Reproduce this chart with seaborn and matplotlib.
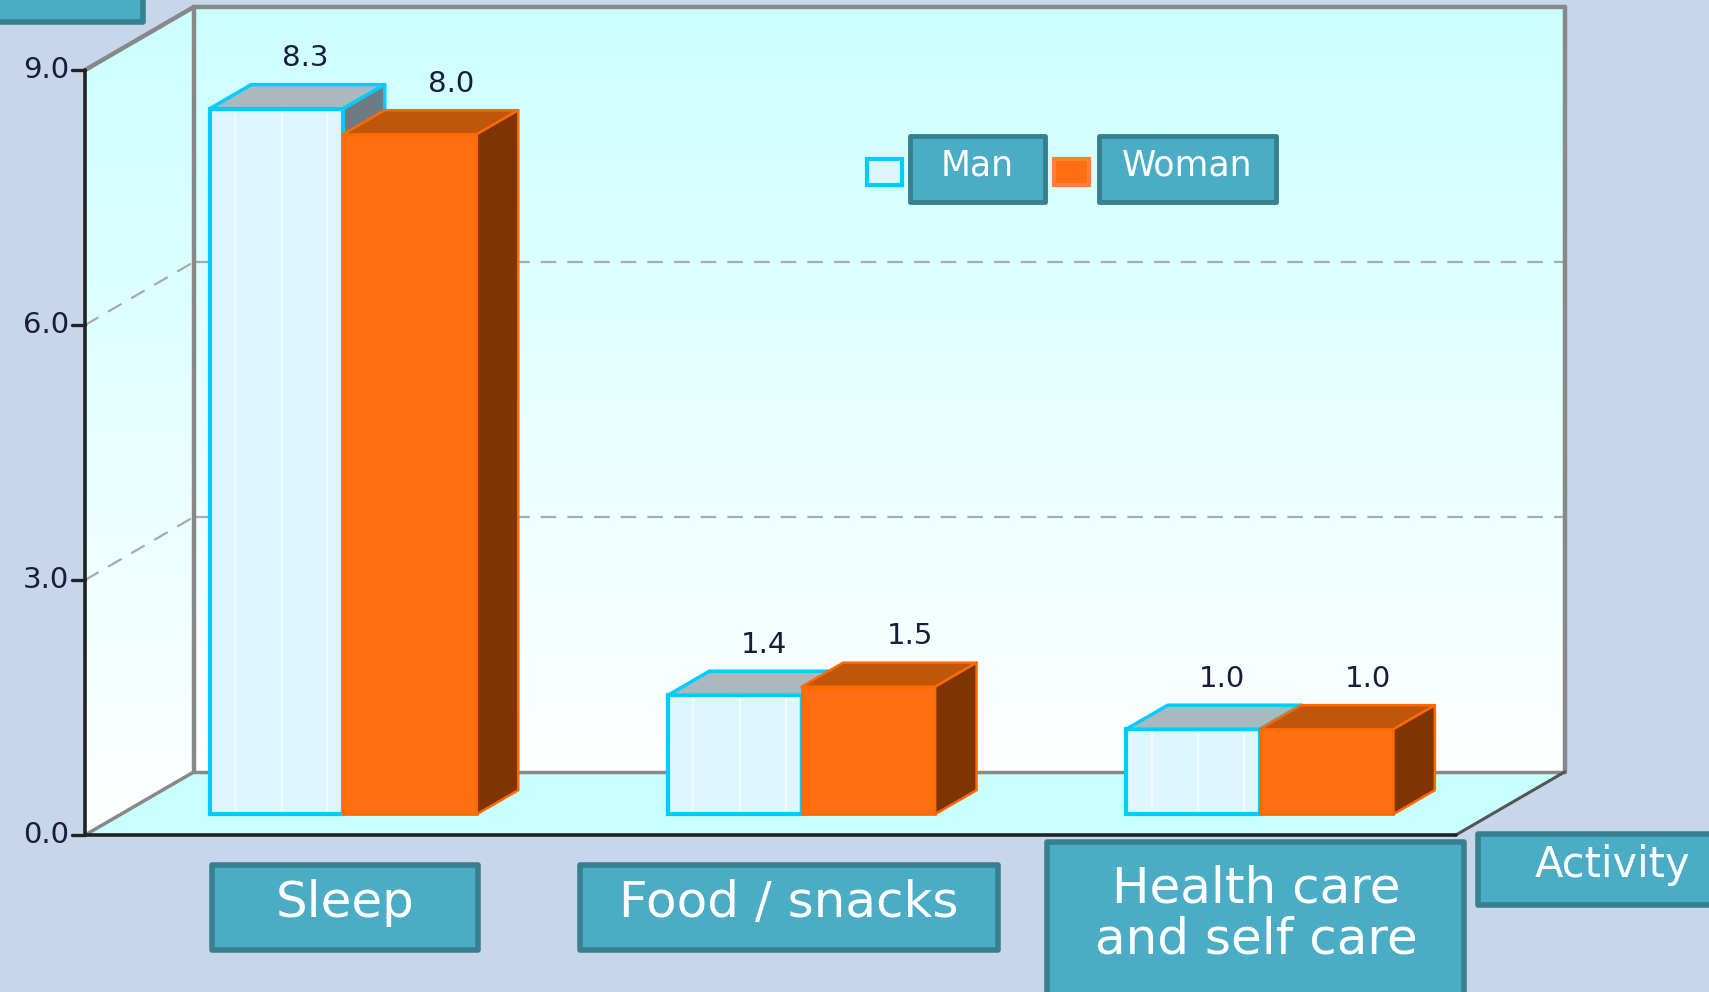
import numpy as np
import pandas as pd
import matplotlib
matplotlib.use("Agg")
import matplotlib.pyplot as plt
import seaborn as sns
from matplotlib.patches import Polygon, FancyBboxPatch, Rectangle
from matplotlib.colors import LinearSegmentedColormap

# ---------------- data ----------------
categories = ["Sleep", "Food / snacks", "Health care\nand self care"]
series = ["Man", "Woman"]
man_hours = [8.3, 1.4, 1.0]
woman_hours = [8.0, 1.5, 1.0]
y_ticks = [0.0, 3.0, 6.0, 9.0]
y_tick_labels = ["0.0", "3.0", "6.0", "9.0"]
grid_values = [3.0, 6.0]
x_axis_title = "Activity"

# ---------------- style ----------------
W, H, DPI = 1709, 992, 100
BG = "#C8D6EC"
MAN_FACE, MAN_EDGE, MAN_TOP, MAN_SIDE = "#DDF6FF", "#00CCFF", "#A9B9BE", "#6E7B80"
WOM_FACE, WOM_EDGE, WOM_TOP, WOM_SIDE = "#FF6E10", "#FF6A00", "#BF560A", "#7F3404"
BOX_FACE, BOX_EDGE = "#4BACC6", "#36808F"
WALL_GRAY = "#888888"
TXT_DARK = "#1B1B3B"

sns.set_theme(style="white")
plt.rcParams["font.family"] = ["DejaVu Sans"]

fig = plt.figure(figsize=(W / DPI, H / DPI), dpi=DPI)
fig.patch.set_facecolor(BG)
ax = fig.add_axes([0, 0, 1, 1])
ax.set_facecolor("none")

df = pd.DataFrame({
    "Activity": categories * 2,
    "Sex": ["Man"] * len(categories) + ["Woman"] * len(categories),
    "Hours": man_hours + woman_hours,
})
sns.barplot(data=df, x="Activity", y="Hours", hue="Sex", order=categories,
            hue_order=series, palette={"Man": MAN_FACE, "Woman": WOM_FACE},
            width=0.583, saturation=1, errorbar=None, legend=False, ax=ax)
bars = sorted([p for p in ax.patches if isinstance(p, Rectangle) and p.get_height() > 0],
              key=lambda p: p.get_x())

# ---------------- 3D projection helpers ----------------
ZB = 0.33      # depth of bar front plane
DEPTH = 0.38   # bar depth
DXd = 0.2378   # x shift per unit depth (data units)
DYd = 0.7435   # y shift per unit depth (data units)
XL, XR = -0.485, 2.506
VMAX = 9.0


def proj(x, v, z):
    return x + (z - ZB) * DXd, v + (z - ZB) * DYd


# walls with gradient
cmap = LinearSegmentedColormap.from_list("wall", ["#FFFFFF", "#CCFFFF"])
grad = np.linspace(0, 1, 256).reshape(-1, 1)

# back wall
bx0, by0 = proj(XL, 0, 1)
bx1, by1 = proj(XR, VMAX, 1)
ax.imshow(grad, extent=[bx0, bx1, by0, by1], origin="lower", cmap=cmap,
          aspect="auto", zorder=1, interpolation="bilinear")
# left wall
lw_pts = [proj(XL, 0, 0), proj(XL, 0, 1), proj(XL, VMAX, 1), proj(XL, VMAX, 0)]
lw_poly = Polygon(lw_pts, closed=True, facecolor="none", edgecolor="none")
ax.add_patch(lw_poly)
lx = [p[0] for p in lw_pts]
ly = [p[1] for p in lw_pts]
im = ax.imshow(grad, extent=[min(lx), max(lx), min(ly), max(ly)], origin="lower",
               cmap=cmap, aspect="auto", zorder=1, interpolation="bilinear")
im.set_clip_path(lw_poly)
# floor
floor = Polygon([proj(XL, 0, 0), proj(XR, 0, 0), proj(XR, 0, 1), proj(XL, 0, 1)],
                closed=True, facecolor="#C8FFFF", edgecolor="none", zorder=1.5)
ax.add_patch(floor)

# dashed gridlines on back and left walls
for g in grid_values:
    a, b = proj(XL, g, 1), proj(XR, g, 1)
    ax.plot([a[0], b[0]], [a[1], b[1]], color="#AAAAAA", lw=1.6,
            dashes=(7, 5), zorder=2)
    c = proj(XL, g, 0)
    ax.plot([c[0], a[0]], [c[1], a[1]], color="#AAAAAA", lw=1.6,
            dashes=(7, 5), zorder=2)


def seg(p, q, **kw):
    ax.plot([p[0], q[0]], [p[1], q[1]], solid_capstyle="round", **kw)


# back wall border
seg(proj(XL, 0, 1), proj(XL, VMAX, 1), color=WALL_GRAY, lw=3.2, zorder=2.5)
seg(proj(XL, VMAX, 1), proj(XR, VMAX, 1), color=WALL_GRAY, lw=3.2, zorder=2.5)
seg(proj(XR, VMAX, 1), proj(XR, 0, 1), color=WALL_GRAY, lw=3.2, zorder=2.5)
seg(proj(XL, 0, 1), proj(XR, 0, 1), color=WALL_GRAY, lw=2.5, zorder=2.5)
# left wall diagonals
seg(proj(XL, VMAX, 0), proj(XL, VMAX, 1), color=WALL_GRAY, lw=3.2, zorder=2.5)
seg(proj(XL, 0, 0), proj(XL, 0, 1), color=WALL_GRAY, lw=2.5, zorder=2.5)
# floor right diagonal
seg(proj(XR, 0, 0), proj(XR, 0, 1), color="#555555", lw=2.2, zorder=2.5)
# front axis & front floor edge
seg(proj(XL, 0, 0), proj(XL, VMAX, 0), color="#222222", lw=2.6, zorder=40)
seg(proj(XL, 0, 0), proj(XR, 0, 0), color="#222222", lw=2.6, zorder=40)
for v, lab in zip(y_ticks, y_tick_labels):
    p = proj(XL, v, 0)
    seg((p[0] - 0.028, p[1]), p, color="#222222", lw=2.4, zorder=40)
    ax.text(p[0] - 0.034, p[1], lab, ha="right", va="center", fontsize=21,
            color=TXT_DARK, zorder=40)

# ---------------- 3D bars ----------------
label_frac = {"Man": 0.7, "Woman": 1.0}
for i, p in enumerate(bars):
    sex = series[i % 2]
    x0, w, h = p.get_x(), p.get_width(), p.get_height()
    edge = MAN_EDGE if sex == "Man" else WOM_EDGE
    top_c = MAN_TOP if sex == "Man" else WOM_TOP
    side_c = MAN_SIDE if sex == "Man" else WOM_SIDE
    base_z = 5 + 3 * i
    p.set_edgecolor(edge)
    p.set_linewidth(3 if sex == "Man" else 2)
    p.set_zorder(base_z)
    top = Polygon([proj(x0, h, ZB), proj(x0 + w, h, ZB), proj(x0 + w, h, ZB + DEPTH),
                   proj(x0, h, ZB + DEPTH)], closed=True, facecolor=top_c,
                  edgecolor=edge, lw=2.5 if sex == "Man" else 1.8,
                  joinstyle="round", zorder=base_z + 1)
    side = Polygon([proj(x0 + w, 0, ZB), proj(x0 + w, 0, ZB + DEPTH),
                    proj(x0 + w, h, ZB + DEPTH), proj(x0 + w, h, ZB)], closed=True,
                   facecolor=side_c, edgecolor=edge, lw=2.5 if sex == "Man" else 1.8,
                   joinstyle="round", zorder=base_z + 2)
    ax.add_patch(top)
    ax.add_patch(side)
    if sex == "Man":
        for f in (0.19, 0.54, 0.88):
            ax.plot([x0 + f * w] * 2, [0.05, h - 0.05], color="#F2FBFF", lw=1.5,
                    zorder=base_z + 0.5)
    lx_ = proj(x0 + w / 2, h, ZB + label_frac[sex] * DEPTH)[0]
    ly_ = proj(x0 + w / 2, h, ZB + DEPTH)[1]
    ax.annotate(f"{h:.1f}", (lx_, ly_), xytext=(0, 19), textcoords="offset points",
                ha="center", va="center", fontsize=21, color=TXT_DARK, zorder=60)

ax.set_xlim(-0.749, 2.980)
ax.set_ylim(-2.092, 9.579)
ax.set_axis_off()

# ---------------- label boxes (figure pixel coords) ----------------
def px_box(x0, y0, x1, y1, lw=4):
    r = FancyBboxPatch((x0 / W, 1 - y1 / H), (x1 - x0) / W, (y1 - y0) / H,
                       boxstyle="square,pad=0", transform=fig.transFigure,
                       facecolor=BOX_FACE, edgecolor=BOX_EDGE, lw=lw,
                       joinstyle="round", zorder=30)
    fig.add_artist(r)


def px_text(cx, cy, s, size, **kw):
    fig.text(cx / W, 1 - cy / H, s, ha="center", va="center", color="white",
             fontsize=size, zorder=31, **kw)


# top-left (cropped) axis title box
px_box(-10, -10, 143, 22)

# category labels
px_box(212, 865, 478, 950)
px_text(345, 903, categories[0], 36)
px_box(580, 865, 998, 950)
px_text(789, 903, categories[1], 36)
px_box(1047, 842, 1464, 1002)
px_text(1256, 914, categories[2], 36, linespacing=1.1)
px_box(1478, 834, 1720, 905)
px_text(1612, 865, x_axis_title, 30)

# legend
for name, fc, ec, sx, bx0, bx1 in [("Man", MAN_FACE, MAN_EDGE, 867, 910, 1045),
                                   ("Woman", WOM_FACE, "#FF8030", 1054, 1099, 1276)]:
    sw = FancyBboxPatch((sx / W, 1 - 185 / H), 35 / W, 26 / H, boxstyle="square,pad=0",
                        transform=fig.transFigure, facecolor=fc, edgecolor=ec,
                        lw=3, zorder=30)
    fig.add_artist(sw)
    px_box(bx0, 136, bx1, 202, lw=3.5)
    px_text((bx0 + bx1) / 2, 166, name, 25)

fig.savefig("out.png", dpi=DPI, facecolor=BG)
